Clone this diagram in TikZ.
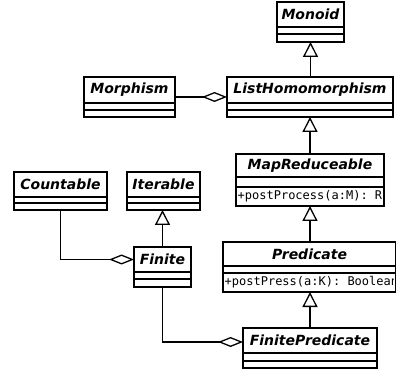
\documentclass[tikz,border=0pt]{standalone}
\usepackage{fontspec}
\setsansfont{DejaVu Sans}
\setmonofont{DejaVu Sans Mono}
\usetikzlibrary{arrows.meta}
\tikzset{
  clsbox/.style={draw, line width=1.6pt, inner sep=0pt, outer sep=0pt, fill=white},
  sepline/.style={line width=1.6pt},
  ttl/.style={inner sep=0pt, font=\fontsize{14}{16}\selectfont\sffamily\bfseries\itshape},
  opt/.style={inner sep=0pt, anchor=west, font=\fontsize{12}{14}\selectfont\ttfamily},
  conn/.style={line width=1.3pt},
  gen/.style={conn, -{Triangle[open, length=15pt, width=15pt, line width=1.3pt]}},
  agg/.style={conn, -{Diamond[open, length=25pt, width=10pt, line width=1.3pt]}},
}
\newcommand\Cls[8]{%
  \node[clsbox, minimum width={(#4-#2)*1pt}, minimum height={(#5-#3)*1pt}, anchor=north west] (#1) at (#2,#3) {};
  \draw[sepline] (#2,#6) -- (#4,#6);
  \draw[sepline] (#2,#7) -- (#4,#7);
  \node[ttl] (#1-t) at ({(#2+#4)/2},{(#3+#6)/2}) {#8};
}
\begin{document}
\begin{tikzpicture}[x=1pt,y=-1pt]
\clip (0,0) rectangle (396,371);
\fill[white] (0,0) rectangle (396,371);
\Cls{monoid}{277}{2}{344}{42}{27}{34}{Monoid}
\Cls{morph}{84}{77}{175}{117}{103}{110}{Morphism}
\Cls{listhom}{227}{77}{393}{117}{103}{110}{ListHomomorphism}
\Cls{mapred}{236}{154}{384}{206}{177}{187}{MapReduceable}
\Cls{pred}{223}{242}{396}{292}{266}{273}{Predicate}
\Cls{countable}{14}{172}{107}{210}{197}{203}{Countable}
\Cls{iterable}{127}{172}{200}{210}{197}{203}{Iterable}
\Cls{finite}{134}{247}{191}{287}{272}{279}{Finite}
\Cls{finpred}{243}{328}{377}{368}{353}{361}{FinitePredicate}
\begin{scope}
  \clip (236,187) rectangle (383,206);
  \node[opt] (mapred-op) at (237.5,196.5) {+postProcess(a:M): R};
\end{scope}
\begin{scope}
  \clip (223,273) rectangle (393,292);
  \node[opt] (pred-op) at (224.5,282.5) {+postPress(a:K): Boolean};
\end{scope}
\draw[gen] (monoid.south |- listhom.north) -- (monoid.south);
\draw[agg] (morph.east) -- (listhom.west);
\draw[gen] (mapred.north) -- (mapred.north |- listhom.south);
\draw[gen] (mapred.north |- pred.north) -- (mapred.south);
\draw[gen] (mapred.north |- finpred.north) -- (mapred.north |- pred.south);
\draw[gen] (finite.north) -- (finite.north |- iterable.south);
\draw[agg] (countable.south) |- (finite.west |- finite-t.center);
\draw[agg] (finite.south) |- (finpred.west |- 0,342);
\end{tikzpicture}
\end{document}
